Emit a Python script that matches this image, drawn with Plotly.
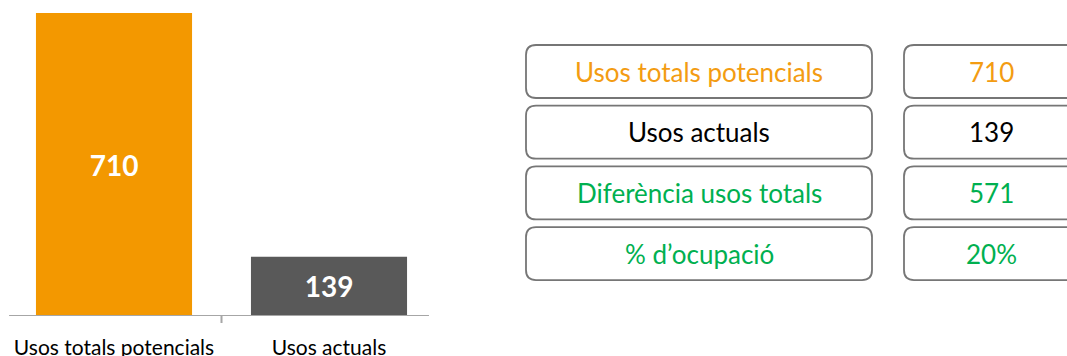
import plotly.graph_objects as go

# Data
categories = ["Usos totals potencials", "Usos actuals"]
values = [710, 139]
bar_colors = ["#F39800", "#595959"]

row_labels = ["Usos totals potencials", "Usos actuals", "Diferència usos totals", "% d\u2019ocupació"]
row_colors = ["#F39C12", "#000000", "#00B050", "#00B050"]

difference = values[0] - values[1]
occupancy = round(values[1] / values[0] * 100)
row_values = [str(values[0]), str(values[1]), str(difference), f"{occupancy}%"]

W, H = 1067, 356
PLOT_H = 316  # height of the plotting area (bottom margin holds the tick labels)
FONT = "Lato, 'Open Sans', sans-serif"

fig = go.Figure()
fig.add_trace(go.Bar(
    x=categories,
    y=values,
    marker=dict(color=bar_colors, line=dict(width=0)),
    text=[str(v) for v in values],
    textposition="inside",
    insidetextanchor="middle",
    constraintext="none",
    textfont=dict(family=FONT, size=28, color="white", weight="bold"),
    hoverinfo="skip",
    width=0.726,
))


def px(x, y):
    """Convert pixel coordinates (from the top-left of the figure) to paper units."""
    return x / W, (PLOT_H - y) / PLOT_H


def rounded_box(x0, y0, x1, y1, r=10):
    def P(x, y):
        a, b = px(x, y)
        return f"{a:.6f},{b:.6f}"
    path = (
        f"M {P(x0 + r, y0)} L {P(x1 - r, y0)} Q {P(x1, y0)} {P(x1, y0 + r)} "
        f"L {P(x1, y1 - r)} Q {P(x1, y1)} {P(x1 - r, y1)} "
        f"L {P(x0 + r, y1)} Q {P(x0, y1)} {P(x0, y1 - r)} "
        f"L {P(x0, y0 + r)} Q {P(x0, y0)} {P(x0 + r, y0)} Z"
    )
    return dict(type="path", xref="paper", yref="paper", path=path,
                line=dict(color="#767676", width=1.8), fillcolor="white", layer="above")


shapes = []
annotations = []
row_top, row_h, row_step = 45, 53, 60.7
for i, (lab, val, col) in enumerate(zip(row_labels, row_values, row_colors)):
    y0 = row_top + i * row_step
    y1 = y0 + row_h
    shapes.append(rounded_box(526, y0, 872, y1))
    shapes.append(rounded_box(904, y0, 1078, y1))
    cx1, cy = px(699, (y0 + y1) / 2)
    cx2, _ = px(991, (y0 + y1) / 2)
    annotations.append(dict(x=cx1, y=cy, xref="paper", yref="paper", text=lab, showarrow=False,
                            xanchor="center", yanchor="middle",
                            font=dict(family=FONT, size=26, color=col)))
    annotations.append(dict(x=cx2, y=cy, xref="paper", yref="paper", text=val, showarrow=False,
                            xanchor="center", yanchor="middle",
                            font=dict(family=FONT, size=26, color=col)))

# Baseline and the tick between the two categories
shapes.append(dict(type="line", xref="x", yref="y", x0=-0.488, x1=1.465, y0=0, y1=0,
                   line=dict(color="#A6A6A6", width=2), layer="above"))
shapes.append(dict(type="line", xref="x", yref="paper", x0=0.5, x1=0.5, y0=0, y1=-7 / PLOT_H,
                   line=dict(color="#A6A6A6", width=2), layer="above"))

ymax = values[0] * PLOT_H / (PLOT_H - 13)

fig.update_layout(
    width=W, height=H,
    margin=dict(l=0, r=0, t=0, b=H - PLOT_H, pad=0, autoexpand=False),
    paper_bgcolor="white", plot_bgcolor="white",
    showlegend=False,
    shapes=shapes,
    annotations=annotations,
    xaxis=dict(domain=[6.5 / W, 436.5 / W], showline=False, showgrid=False, zeroline=False,
               ticks="", tickfont=dict(family=FONT, size=21, color="#000000"),
               ticklabelstandoff=17, automargin=False, fixedrange=True),
    yaxis=dict(range=[0, ymax], visible=False, automargin=False, fixedrange=True),
)

fig.write_html("out.html")
